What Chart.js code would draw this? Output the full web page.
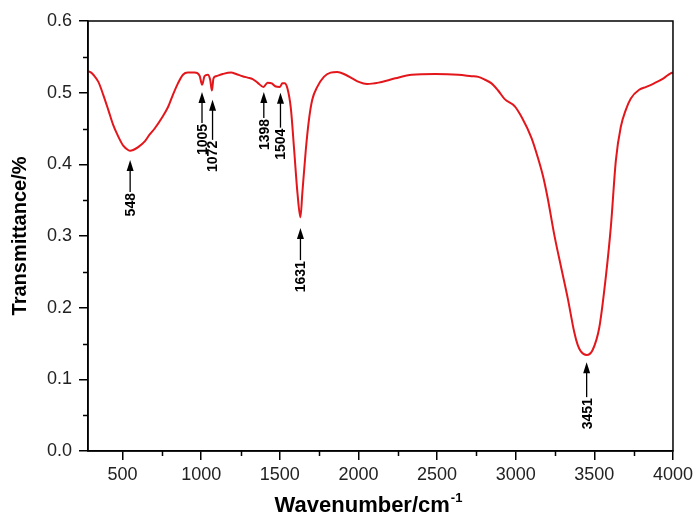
<!DOCTYPE html>
<html>
<head>
<meta charset="utf-8">
<script src="https://cdn.jsdelivr.net/npm/chart.js@4/dist/chart.umd.min.js"></script>
<style>
  html, body { margin: 0; padding: 0; background: #fff; }
  #wrap { width: 697px; height: 519px; }
</style>
</head>
<body>
<div id="wrap"><canvas id="ftirChart" width="697" height="519"></canvas></div>
<script>
// spectrum (wavenumber cm-1, transmittance)
const wavenumbers = [
  282, 300, 314, 346, 377, 409, 440, 472, 504, 535, 548, 567, 599, 641, 670, 704, 747, 789, 820, 852, 884, 915, 958, 989,
  1006, 1021, 1042, 1057, 1068, 1078, 1095, 1137, 1190, 1222, 1263, 1295, 1327, 1358, 1396, 1422, 1449, 1470, 1500,
  1516, 1530, 1548, 1570, 1591, 1612, 1631, 1643, 1665, 1685, 1706, 1738, 1780, 1823, 1865,
  1918, 1960, 2002, 2055, 2128, 2234, 2339, 2487, 2635, 2719, 2762, 2804, 2846, 2888, 2930, 2994, 3040, 3100, 3140,
  3173, 3204, 3245, 3289, 3331, 3372, 3394, 3414, 3451, 3489, 3532, 3573, 3605, 3637, 3668, 3700, 3732, 3785, 3830,
  3880, 3940, 3985, 4000
];
const transmittance = [
  0.530, 0.528, 0.525, 0.515, 0.497, 0.476, 0.455, 0.439, 0.426, 0.420, 0.419, 0.420, 0.424, 0.432, 0.441, 0.450, 0.464, 0.480, 0.497, 0.513, 0.525, 0.528, 0.528, 0.524,
  0.511, 0.523, 0.525, 0.518, 0.503, 0.520, 0.523, 0.526, 0.528, 0.526, 0.523, 0.521, 0.519, 0.514, 0.508, 0.514, 0.513, 0.509, 0.508,
  0.513, 0.513, 0.506, 0.478, 0.420, 0.360, 0.326, 0.360, 0.420, 0.462, 0.490, 0.508, 0.522, 0.528, 0.529,
  0.525, 0.520, 0.515, 0.512, 0.514, 0.520, 0.525, 0.526, 0.525, 0.523, 0.522, 0.518, 0.513, 0.503, 0.491, 0.481, 0.465, 0.437, 0.410,
  0.384, 0.352, 0.302, 0.256, 0.213, 0.166, 0.148, 0.139, 0.134, 0.141, 0.173, 0.243, 0.313, 0.406, 0.452, 0.476, 0.492, 0.504, 0.508,
  0.513, 0.520, 0.527, 0.528
];

// peak markers: label, position, where the arrow tip sits
const peakLabels = ['548', '1005', '1072', '1398', '1504', '1631', '3451'];
const peakX = [548, 1005, 1072, 1398, 1504, 1631, 3451];
const peakTip = [0.406, 0.501, 0.490, 0.501, 0.500, 0.311, 0.124];

const xTicks = [500, 1000, 1500, 2000, 2500, 3000, 3500, 4000];
const xMinor = [750, 1250, 1750, 2250, 2750, 3250, 3750];
const yTicks = [0, 0.1, 0.2, 0.3, 0.4, 0.5, 0.6];
const yMinor = [0.05, 0.15, 0.25, 0.35, 0.45, 0.55];

const FONT = '"Liberation Sans", Arial, sans-serif';

// frame, minor ticks, titles and peak arrows
const decorPlugin = {
  id: 'decor',
  afterDatasetsDraw(chart, args, opts) {
    const ctx = chart.ctx;
    const a = chart.chartArea;
    const xs = chart.scales.x, ys = chart.scales.y;
    ctx.save();
    ctx.strokeStyle = '#000';
    ctx.lineWidth = 1.5;
    ctx.strokeRect(a.left, a.top, a.right - a.left, a.bottom - a.top);

    ctx.beginPath();
    xMinor.forEach(v => {
      const px = Math.round(xs.getPixelForValue(v)) + 0.5;
      ctx.moveTo(px, a.bottom); ctx.lineTo(px, a.bottom + 5);
    });
    yMinor.forEach(v => {
      const py = Math.round(ys.getPixelForValue(v)) + 0.5;
      ctx.moveTo(a.left, py); ctx.lineTo(a.left - 5, py);
    });
    ctx.stroke();

    // arrows
    ctx.fillStyle = '#000';
    ctx.lineWidth = 1.3;
    ctx.font = 'bold 14px ' + FONT;
    for (let i = 0; i < peakLabels.length; i++) {
      const px = xs.getPixelForValue(peakX[i]);
      const tip = ys.getPixelForValue(peakTip[i]);
      const len = opts.shaft[i];
      ctx.beginPath();
      ctx.moveTo(px, tip);
      ctx.lineTo(px - 3.5, tip + 11);
      ctx.lineTo(px + 3.5, tip + 11);
      ctx.closePath();
      ctx.fill();
      ctx.beginPath();
      ctx.moveTo(px, tip + 8);
      ctx.lineTo(px, tip + len);
      ctx.stroke();
      ctx.save();
      ctx.translate(px, tip + len + 1);
      ctx.rotate(-Math.PI / 2);
      ctx.textAlign = 'right';
      ctx.textBaseline = 'middle';
      ctx.fillText(peakLabels[i], 0, 1);
      ctx.restore();
    }

    // y title
    ctx.save();
    ctx.font = 'bold 20px ' + FONT;
    ctx.translate(20, (a.top + a.bottom) / 2);
    ctx.rotate(-Math.PI / 2);
    ctx.textAlign = 'center';
    ctx.textBaseline = 'middle';
    ctx.fillText('Transmittance/%', 0, 0);
    ctx.restore();

    // x title with superscript
    ctx.font = 'bold 22px ' + FONT;
    const main = 'Wavenumber/cm';
    const w1 = ctx.measureText(main).width;
    ctx.font = 'bold 13px ' + FONT;
    const w2 = ctx.measureText('-1').width;
    const x0 = 368 - (w1 + w2) / 2;
    ctx.textAlign = 'left';
    ctx.textBaseline = 'alphabetic';
    ctx.font = 'bold 22px ' + FONT;
    ctx.fillText(main, x0, 512);
    ctx.font = 'bold 13px ' + FONT;
    ctx.fillText('-1', x0 + w1 + 1, 502);
    ctx.restore();
  }
};

const cfg = {
  type: 'line',
  data: {
    datasets: [{
      label: 'FTIR',
      data: wavenumbers.map((w, i) => ({ x: w, y: transmittance[i] })),
      borderColor: '#e3161b',
      borderWidth: 2,
      pointRadius: 0,
      fill: false,
      cubicInterpolationMode: 'monotone'
    }]
  },
  options: {
    responsive: false,
    animation: false,
    devicePixelRatio: 1,
    layout: { padding: { left: 0, top: 21, right: 22, bottom: 0 } },
    plugins: {
      legend: { display: false },
      tooltip: { enabled: false },
      decor: { shaft: [32, 31, 40, 26, 35, 32, 35] }
    },
    scales: {
      x: {
        type: 'linear', min: 280, max: 4000,
        afterBuildTicks: s => { s.ticks = xTicks.map(v => ({ value: v })); },
        afterFit: s => { s.height = 68; },
        grid: { drawOnChartArea: false, drawTicks: true, tickLength: 9, color: '#000', lineWidth: 1.5 },
        border: { display: true, color: '#000', width: 1.5 },
        ticks: { color: '#222', font: { family: FONT, size: 18 }, padding: 4, maxRotation: 0, callback: v => String(v) }
      },
      y: {
        type: 'linear', min: 0, max: 0.6,
        afterBuildTicks: s => { s.ticks = yTicks.map(v => ({ value: v })); },
        afterFit: s => { s.width = 88; },
        grid: { drawOnChartArea: false, drawTicks: true, tickLength: 9, color: '#000', lineWidth: 1.5 },
        border: { display: true, color: '#000', width: 1.5 },
        ticks: { color: '#222', font: { family: FONT, size: 18 }, padding: 7, callback: v => v.toFixed(1) }
      }
    }
  },
  plugins: [decorPlugin]
};

new Chart(document.getElementById('ftirChart').getContext('2d'), cfg);
</script>
</body>
</html>
